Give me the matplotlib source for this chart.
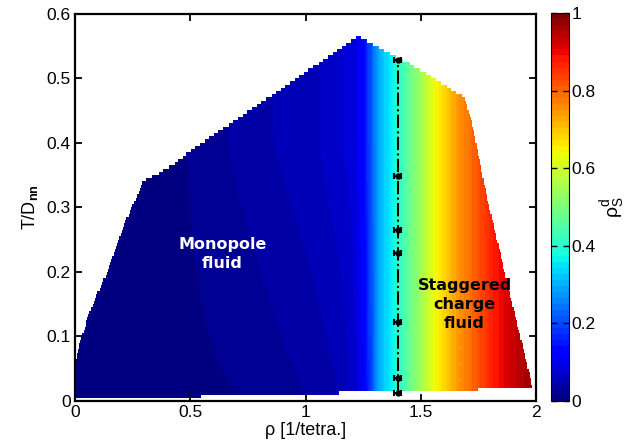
import numpy as np
import matplotlib.pyplot as plt
from matplotlib.path import Path

plt.rcParams['font.family'] = ['Liberation Sans', 'DejaVu Sans']
plt.rcParams['mathtext.fontset'] = 'custom'
plt.rcParams['mathtext.rm'] = 'Liberation Sans'
plt.rcParams['mathtext.bf'] = 'Liberation Sans:bold'
plt.rcParams['mathtext.it'] = 'Liberation Sans:italic'

# outline of the simulated region in (rho, T)
edge_rho = [-0.02, 0.0, 0.017, 0.061, 0.148, 0.221, 0.295, 0.317, 0.364, 0.438, 0.495,
            1.23, 1.393, 1.44, 1.583, 1.67, 1.692, 1.727, 1.77, 1.79, 1.974, 1.984,
            1.984, 1.75, 1.75, 1.15, 1.15, 0.55, 0.55, -0.02]
edge_T = [0.059, 0.059, 0.084, 0.136, 0.207, 0.280, 0.338, 0.345, 0.353, 0.369, 0.386,
          0.565, 0.532, 0.525, 0.494, 0.474, 0.469, 0.424, 0.345, 0.311, 0.037, 0.017,
          0.0175, 0.0175, 0.0125, 0.0125, 0.0095, 0.0095, 0.0045, 0.0045]

# rho_S^d profile along rho, near T=0 and at T=0.4
rho_low = [0.0, 0.73, 1.0, 1.154, 1.22, 1.26, 1.32, 1.38, 1.47, 1.57, 1.67, 1.76, 1.82, 1.9, 2.0]
val_low = [0.0, 0.0156, 0.031, 0.047, 0.075, 0.125, 0.3, 0.37, 0.5, 0.65, 0.75, 0.83, 0.88, 0.93, 0.98]
rho_high = [0.0, 0.48, 0.655, 0.86, 1.06, 1.206, 1.25, 1.32, 1.38, 1.47, 1.57, 1.67, 1.76, 1.82, 1.9, 2.0]
val_high = [0.0, 0.0156, 0.031, 0.047, 0.0625, 0.085, 0.125, 0.3, 0.37, 0.5, 0.65, 0.75, 0.83, 0.88, 0.93, 0.98]

# transition points with errors
pts_rho = [1.40, 1.40, 1.40, 1.40, 1.40, 1.40, 1.40]
pts_T = [0.013, 0.036, 0.123, 0.229, 0.264, 0.349, 0.528]
pts_err = [0.016, 0.016, 0.016, 0.016, 0.016, 0.016, 0.016]

rho_edges = np.arange(-0.0025, 2.005, 0.005)
T_edges = np.arange(0, 0.6001, 0.005)
rho_c = 0.5 * (rho_edges[:-1] + rho_edges[1:])
T_c = 0.5 * (T_edges[:-1] + T_edges[1:])
R, TT = np.meshgrid(rho_c, T_c)

lo = np.interp(R, rho_low, val_low)
hi = np.interp(R, rho_high, val_high)
w = np.clip(TT / 0.4, 0, 1)
Z = lo * (1 - w) + hi * w

poly = Path(np.column_stack([edge_rho, edge_T]))
inside = poly.contains_points(np.column_stack([R.ravel(), TT.ravel()])).reshape(R.shape)
Z = np.ma.masked_where(~inside, Z)

fig = plt.figure(figsize=(6.36, 4.47), dpi=100)
ax = fig.add_axes([75 / 636, 46 / 447, 461 / 636, 387.5 / 447])
cax = fig.add_axes([551 / 636, 46 / 447, 17.5 / 636, 388 / 447])

mesh = ax.pcolormesh(rho_edges, T_edges, Z, cmap=plt.get_cmap('jet', 64),
                     vmin=0, vmax=1, shading='flat')

ax.plot([1.40, 1.40], [pts_T[0], pts_T[-1]], 'k-.', lw=1.5)
ax.errorbar(pts_rho, pts_T, xerr=pts_err, fmt='o', color='k', ms=3.5,
            elinewidth=1.5, capsize=2.5, capthick=1.5)

ax.text(0.64, 0.228, 'Monopole\nfluid', color='white', fontweight='bold',
        family='DejaVu Sans', fontsize=11.5, ha='center', va='center', linespacing=1.35)
ax.text(1.69, 0.149, 'Staggered\ncharge\nfluid', color='black', fontweight='bold',
        family='DejaVu Sans', fontsize=11.5, ha='center', va='center', linespacing=1.35)

ax.set_xlim(0, 2)
ax.set_ylim(0, 0.6)
ax.set_xticks([0, 0.5, 1, 1.5, 2])
ax.set_xticklabels(['0', '0.5', '1', '1.5', '2'])
ax.set_yticks([0, 0.1, 0.2, 0.3, 0.4, 0.5, 0.6])
ax.set_yticklabels(['0', '0.1', '0.2', '0.3', '0.4', '0.5', '0.6'])
ax.tick_params(direction='in', top=True, right=True, length=5, width=1.3,
               labelsize=12.5, pad=3)
for s in ax.spines.values():
    s.set_linewidth(1.6)

ax.set_xlabel('ρ [1/tetra.]', fontsize=13, labelpad=1)
ax.set_ylabel(r'T/D$_{\mathbf{nn}}$', fontsize=13, labelpad=5)

cb = fig.colorbar(mesh, cax=cax, ticks=[0, 0.2, 0.4, 0.6, 0.8, 1])
cb.set_ticklabels(['0', '0.2', '0.4', '0.6', '0.8', '1'])
cb.ax.tick_params(direction='in', length=4, width=1, left=True, right=True, labelsize=12.5, pad=2)
cb.outline.set_linewidth(0.8)
cb.set_label(r'$\mathrm{\rho}_{\mathrm{S}}^{\mathrm{d}}$', fontsize=14, rotation=90, labelpad=2)

fig.savefig('out.png', dpi=100)
